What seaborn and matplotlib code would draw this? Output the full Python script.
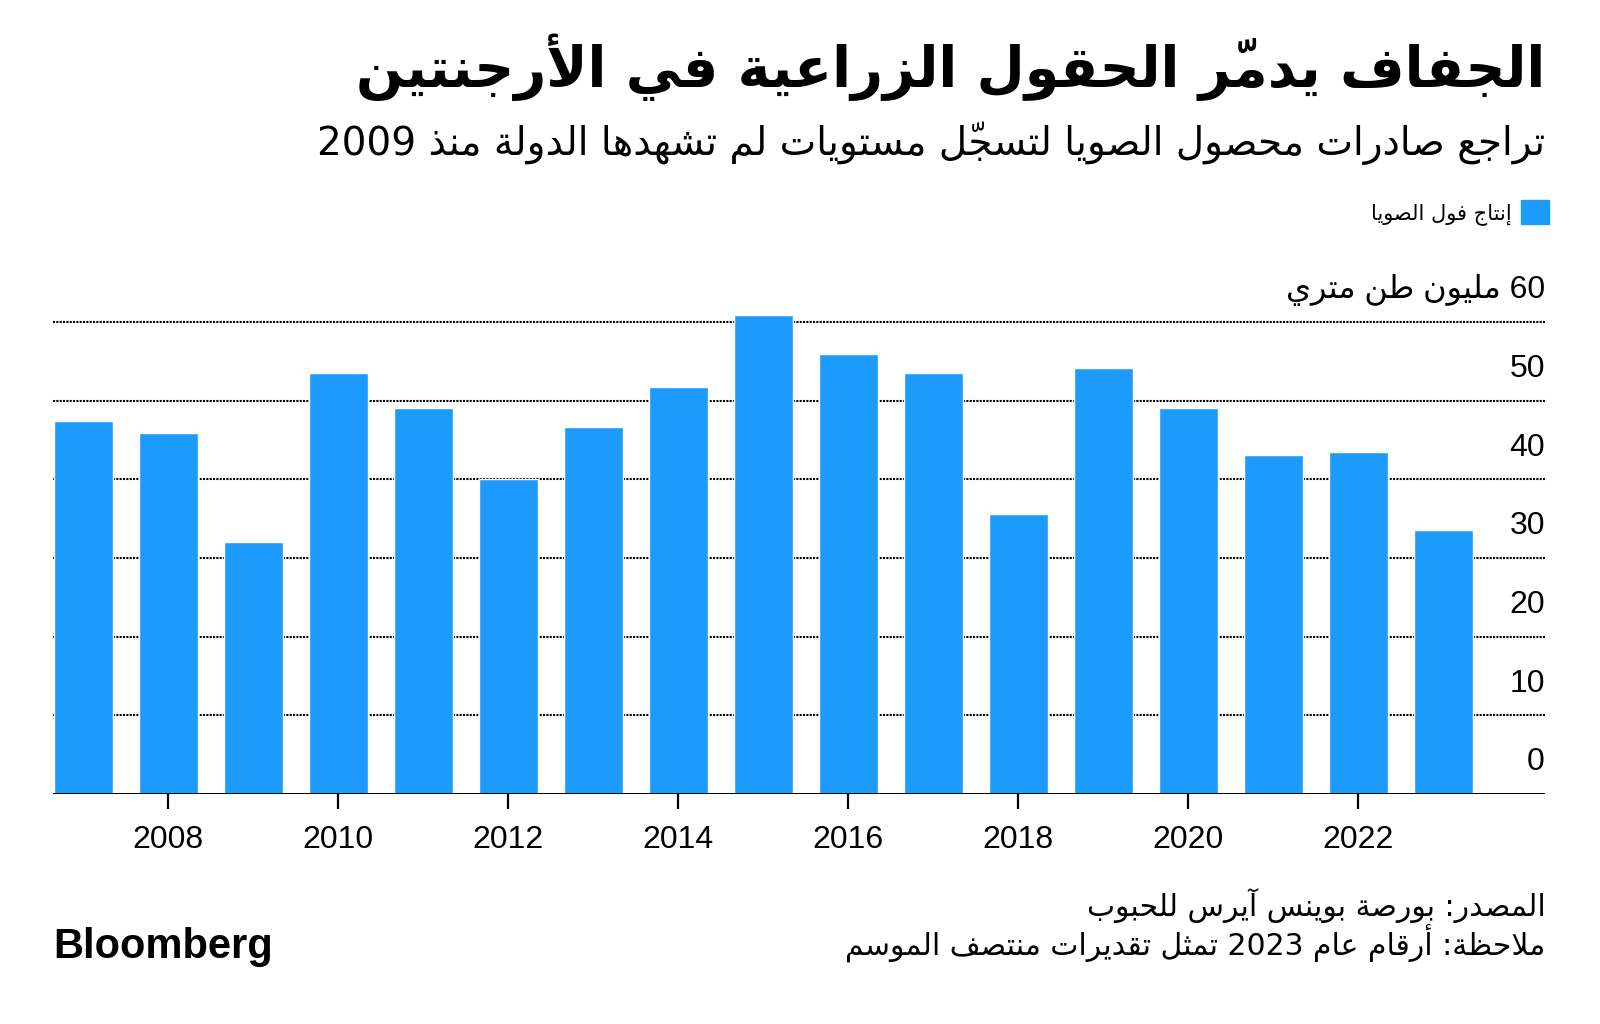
import matplotlib
matplotlib.use('Agg')
import matplotlib.pyplot as plt
import matplotlib.transforms as mtransforms
from matplotlib.patches import Patch
import seaborn as sns

# soybean production, million metric tons (Buenos Aires Grains Exchange)
years = list(range(2007, 2024))
production = [47.4, 45.9, 32.0, 53.5, 49.1, 40.0, 46.7, 51.7, 60.9,
              55.9, 53.5, 35.6, 54.2, 49.1, 43.1, 43.5, 33.5]
x_ticks = list(range(2008, 2023, 2))
y_ticks = [0, 10, 20, 30, 40, 50, 60]

title = 'الجفاف يدمّر الحقول الزراعية في الأرجنتين'
subtitle = 'تراجع صادرات محصول الصويا لتسجّل مستويات لم تشهدها الدولة منذ 2009'
legend_label = 'إنتاج فول الصويا'
unit_label = 'مليون طن متري'
source = 'المصدر: بورصة بوينس آيرس للحبوب'
note = 'ملاحظة: أرقام عام 2023 تمثل تقديرات منتصف الموسم'

BLUE = '#1d9bfc'

# --- tiny arabic shaper (matplotlib has no shaping / bidi) ---
TWO = {'\u0622': 0xFE81, '\u0623': 0xFE83, '\u0624': 0xFE85, '\u0625': 0xFE87,
       '\u0627': 0xFE8D, '\u0629': 0xFE93, '\u062F': 0xFEA9, '\u0630': 0xFEAB,
       '\u0631': 0xFEAD, '\u0632': 0xFEAF, '\u0648': 0xFEED, '\u0649': 0xFEEF}
FOUR = {'\u0626': 0xFE89, '\u0628': 0xFE8F, '\u062A': 0xFE95, '\u062B': 0xFE99,
        '\u062C': 0xFE9D, '\u062D': 0xFEA1, '\u062E': 0xFEA5, '\u0633': 0xFEB1,
        '\u0634': 0xFEB5, '\u0635': 0xFEB9, '\u0636': 0xFEBD, '\u0637': 0xFEC1,
        '\u0638': 0xFEC5, '\u0639': 0xFEC9, '\u063A': 0xFECD, '\u0641': 0xFED1,
        '\u0642': 0xFED5, '\u0643': 0xFED9, '\u0644': 0xFEDD, '\u0645': 0xFEE1,
        '\u0646': 0xFEE5, '\u0647': 0xFEE9, '\u064A': 0xFEF1}
LAM_ALEF = {'\u0622': 0xFEF5, '\u0623': 0xFEF7, '\u0625': 0xFEF9, '\u0627': 0xFEFB}


def is_mark(ch):
    return 0x064B <= ord(ch) <= 0x0652


def ar(text):
    clusters = []
    for ch in text:
        if is_mark(ch) and clusters:
            clusters[-1][1] += ch
        else:
            clusters.append([ch, ''])
    merged = []
    i = 0
    while i < len(clusters):
        b, m = clusters[i]
        if b == '\u0644' and i + 1 < len(clusters) and clusters[i + 1][0] in LAM_ALEF:
            merged.append(['LA' + clusters[i + 1][0], m + clusters[i + 1][1]])
            i += 2
        else:
            merged.append([b, m])
            i += 1

    def join_next(b):
        return b in FOUR

    def join_prev(b):
        return b in FOUR or b in TWO or b.startswith('LA')

    shaped = []
    for k, (b, m) in enumerate(merged):
        prev = merged[k - 1][0] if k > 0 else None
        nxt = merged[k + 1][0] if k + 1 < len(merged) else None
        cp = prev is not None and join_next(prev) and join_prev(b)
        cn = join_next(b) and nxt is not None and join_prev(nxt)
        if b.startswith('LA'):
            g = chr(LAM_ALEF[b[2]] + (1 if cp else 0))
        elif b in FOUR:
            s = FOUR[b]
            g = chr(s + 3) if cp and cn else chr(s + 1) if cp else chr(s + 2) if cn else chr(s)
        elif b in TWO:
            g = chr(TWO[b] + (1 if cp else 0))
        elif b == '\u0621':
            g = '\uFE80'
        else:
            g = b
        shaped.append((g, m, b.isdigit()))

    # visual order: reverse, keeping digit runs left-to-right
    units = []
    for g, m, digit in shaped:
        if digit and units and units[-1][1]:
            units[-1][0] += g
        else:
            units.append([m + g, digit])
    return ''.join(u[0] for u in reversed(units))


sns.set_theme(style='white')
plt.rcParams['font.family'] = ['DejaVu Sans']
plt.rcParams['text.color'] = 'black'
plt.rcParams['xtick.color'] = 'black'
plt.rcParams['xtick.labelcolor'] = 'black'

fig = plt.figure(figsize=(16, 10.24), dpi=100)
ax = fig.add_axes([0.0333, 0.2246, 0.9323, 0.4763])

sns.barplot(x=years, y=production, native_scale=True, width=0.7,
            color=BLUE, saturation=1, ax=ax, zorder=2)

ax.set_xlim(2006.647, 2024.196)
ax.set_ylim(0, 62)
ax.set_yticks(y_ticks[1:])
ax.yaxis.grid(True, linestyle=(0, (1, 0.6)), color='black', linewidth=1.5)
ax.set_axisbelow(True)
ax.axhline(0, color='black', linewidth=1.4, zorder=3)
for s in ax.spines.values():
    s.set_visible(False)
ax.tick_params(axis='y', length=0, labelleft=False)

ax.set_xticks(x_ticks)
ax.set_xticklabels([str(y) for y in x_ticks], fontfamily='Liberation Sans', fontsize=23)
ax.tick_params(axis='x', length=11, width=1.6, color='black', pad=11, bottom=True)
ax.set_xlabel('')
ax.set_ylabel('')

lab_tr = mtransforms.offset_copy(ax.get_yaxis_transform(), fig=fig, x=0, y=17, units='points')
for v in y_ticks:
    if v == 60:
        ax.text(1.0, v, ar(str(v) + ' ' + unit_label), transform=lab_tr, ha='right',
                va='baseline', fontsize=23, fontfamily=['Liberation Sans', 'DejaVu Sans'])
    else:
        ax.text(1.0, v, str(v), transform=lab_tr, ha='right', va='baseline',
                fontsize=23, fontfamily='Liberation Sans')

fig.text(0.966, 0.915, ar(title), ha='right', va='baseline', fontsize=40, fontweight='bold')
fig.text(0.966, 0.849, ar(subtitle), ha='right', va='baseline', fontsize=28)

fig.legend(handles=[Patch(color=BLUE, label=ar(legend_label))], loc='upper right',
           bbox_to_anchor=(1549.3 / 1600, 1 - 200 / 1024), frameon=False, markerfirst=False,
           fontsize=15, handlelength=1.37, handleheight=1.37, handletextpad=0.43,
           borderpad=0, borderaxespad=0)

fig.text(0.966, 1 - 916 / 1024, ar(source), ha='right', va='baseline', fontsize=21.5)
fig.text(0.966, 1 - 956 / 1024, ar(note), ha='right', va='baseline', fontsize=21.5)
fig.text(53 / 1600, 1 - 958 / 1024, 'Bloomberg', ha='left', va='baseline', fontsize=30,
         fontweight='bold', fontfamily='Liberation Sans')

fig.savefig('out.png', dpi=100, facecolor='white')
